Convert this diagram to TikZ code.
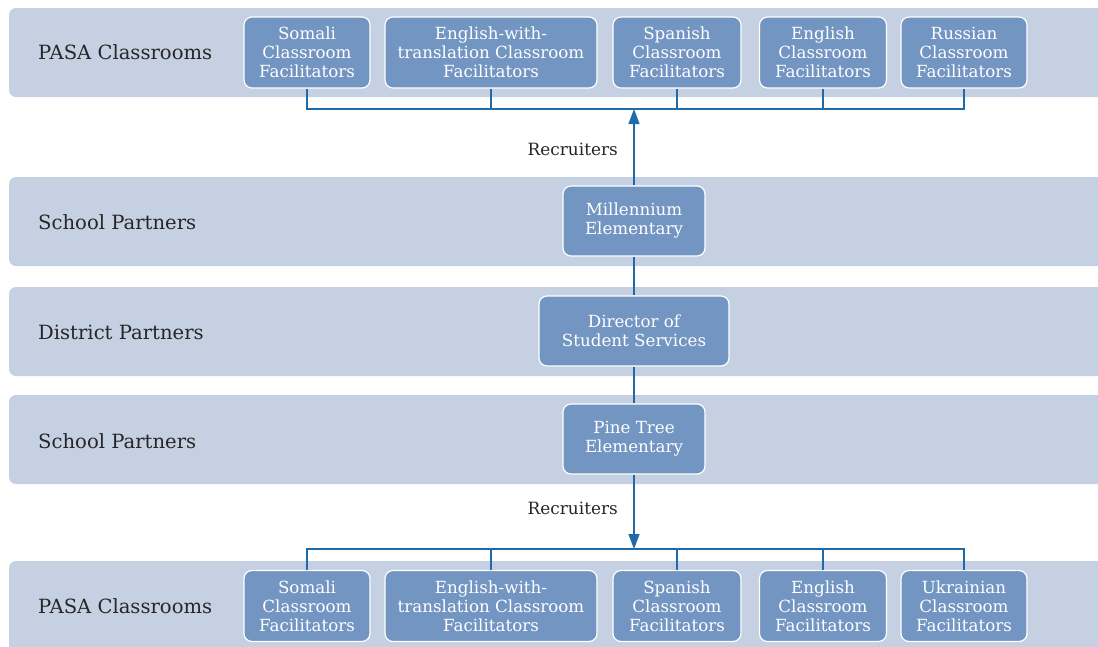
\documentclass[tikz,border=0pt]{standalone}
\usepackage{fontspec}
\setmainfont{DejaVu Serif}
\usepackage{xcolor}
\usetikzlibrary{positioning, arrows.meta}

\definecolor{bandblue}{HTML}{C5D0E3}
\definecolor{boxblue}{HTML}{7295C2}
\definecolor{linkblue}{HTML}{1F6AA8}
\definecolor{inktext}{HTML}{262626}

\tikzset{
  band/.style={fill=bandblue, draw=none, rounded corners=7pt},
  rowlabel/.style={anchor=west, text=inktext, inner sep=0pt, font=\fontsize{19.6}{22}\selectfont},
  unit/.style={draw=white, line width=1.2pt, fill=boxblue, rounded corners=8pt, text=white,
    align=center, inner sep=0pt, minimum height=71pt, font=\fontsize{16.7}{19}\selectfont},
  link/.style={draw=linkblue, line width=1.3pt},
  recruit/.style={anchor=east, text=inktext, inner sep=0pt, font=\fontsize{16.9}{19}\selectfont}
}

\begin{document}
\begin{tikzpicture}[x=1pt, y=-1pt]
  \useasboundingbox (0,0) rectangle (1098,646);
  \clip (0,0) rectangle (1098,646);

  % bands
  \fill[band] (9,8) rectangle (1120,97);
  \fill[band] (9,177) rectangle (1120,266);
  \fill[band] (9,287) rectangle (1120,376);
  \fill[band] (9,395) rectangle (1120,484);
  \fill[band] (9,561) rectangle (1120,670);

  \node[rowlabel] (lpasatop) at (38,52) {PASA Classrooms};
  \node[rowlabel] (lschooltop) at (38,222) {School Partners};
  \node[rowlabel] (ldistrict) at (38,332) {District Partners};
  \node[rowlabel] (lschoolbot) at (38,441) {School Partners};
  \node[rowlabel] (lpasabot) at (38,606) {PASA Classrooms};

  % top classrooms
  \node[unit, minimum width=126pt] (somalitop) at (307,52.5) {Somali\\Classroom\\Facilitators};
  \node[unit, minimum width=212pt] (ewttop) at (491,52.5) {English-with-\\translation Classroom\\Facilitators};
  \node[unit, minimum width=128pt] (spanishtop) at (677,52.5) {Spanish\\Classroom\\Facilitators};
  \node[unit, minimum width=127pt] (englishtop) at (823,52.5) {English\\Classroom\\Facilitators};
  \node[unit, minimum width=126pt] (russian) at (964,52.5) {Russian\\Classroom\\Facilitators};

  % partners
  \node[unit, minimum width=142pt, minimum height=70pt] (millennium) at (634,221) {Millennium\\Elementary};
  \node[unit, minimum width=190pt, minimum height=70pt] (director) at (634,331) {Director of\\Student Services};
  \node[unit, minimum width=142pt, minimum height=70pt] (pinetree) at (634,439) {Pine Tree\\Elementary};

  % bottom classrooms
  \node[unit, minimum width=126pt] (somalibot) at (307,606) {Somali\\Classroom\\Facilitators};
  \node[unit, minimum width=212pt] (ewtbot) at (491,606) {English-with-\\translation Classroom\\Facilitators};
  \node[unit, minimum width=128pt] (spanishbot) at (677,606) {Spanish\\Classroom\\Facilitators};
  \node[unit, minimum width=127pt] (englishbot) at (823,606) {English\\Classroom\\Facilitators};
  \node[unit, minimum width=126pt] (ukrainian) at (964,606) {Ukrainian\\Classroom\\Facilitators};

  \coordinate (topbus) at (634,109);
  \coordinate (botbus) at (634,549);

  \draw[link] (somalitop.south) |- (topbus) -| (russian.south);
  \draw[link] (ewttop.south) -- (ewttop.south |- topbus);
  \draw[link] (spanishtop.south) -- (spanishtop.south |- topbus);
  \draw[link] (englishtop.south) -- (englishtop.south |- topbus);
  \draw[link, -{Triangle[length=15pt, width=11pt]}] (millennium.north) -- (topbus);

  \draw[link] (millennium) -- (director);
  \draw[link] (director) -- (pinetree);

  \draw[link, -{Triangle[length=15pt, width=11pt]}] (pinetree.south) -- (botbus);
  \draw[link] (somalibot.north) |- (botbus) -| (ukrainian.north);
  \draw[link] (ewtbot.north) -- (ewtbot.north |- botbus);
  \draw[link] (spanishbot.north) -- (spanishbot.north |- botbus);
  \draw[link] (englishbot.north) -- (englishbot.north |- botbus);

  \node[recruit] (recruittop) at (618,149) {Recruiters};
  \node[recruit] (recruitbot) at (618,508) {Recruiters};
\end{tikzpicture}
\end{document}
